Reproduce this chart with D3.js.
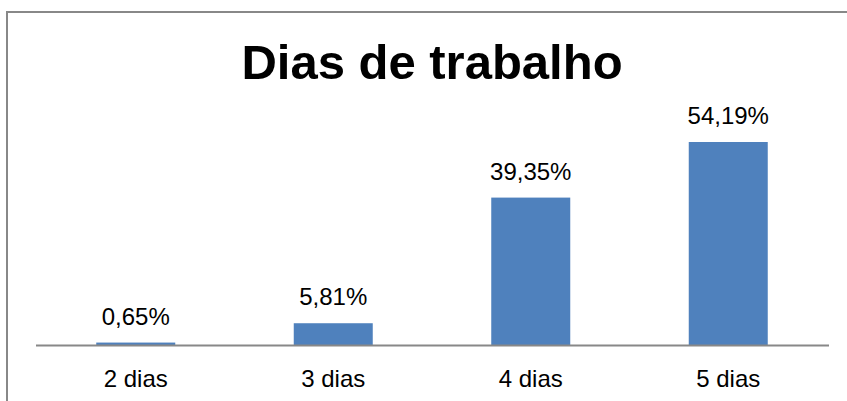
<!DOCTYPE html>
<html>
<head>
<meta charset="utf-8">
<script src="https://cdn.jsdelivr.net/npm/d3@7"></script>
<style>
  body { margin: 0; background: #fff; }
  svg { display: block; }
</style>
</head>
<body>
<div id="chart"></div>
<script>
const categories = ["2 dias", "3 dias", "4 dias", "5 dias"]
const values = [0.65, 5.81, 39.35, 54.19]
const valueLabels = ["0,65%", "5,81%", "39,35%", "54,19%"]
const title = "Dias de trabalho"

const width = 847
const height = 401
const baseY = 345

const svg = d3.select("#chart").append("svg")
  .attr("width", width)
  .attr("height", height)

// outer frame (right and bottom run off the picture)
svg.append("path")
  .attr("d", `M7,${height} V12 H${width}`)
  .attr("fill", "none")
  .attr("stroke", "#888")
  .attr("stroke-width", 2)

svg.append("text")
  .attr("x", 432)
  .attr("y", 79)
  .attr("text-anchor", "middle")
  .attr("font-family", "Liberation Sans, Arial, sans-serif")
  .attr("font-weight", "bold")
  .attr("font-size", 49)
  .attr("fill", "#000")
  .text(title)

const x = d3.scaleBand().domain(categories).range([37, 827]).paddingInner(0.6).paddingOuter(0.3)
const y = d3.scaleLinear().domain([0, 54.19]).range([baseY, 142])

svg.selectAll("rect.bar")
  .data(values)
  .enter()
  .append("rect")
  .attr("class", "bar")
  .attr("x", (d, i) => x(categories[i]))
  .attr("y", d => y(d))
  .attr("width", x.bandwidth())
  .attr("height", d => baseY - y(d))
  .attr("fill", "#4f81bd")

svg.selectAll("text.val")
  .data(values)
  .enter()
  .append("text")
  .attr("class", "val")
  .attr("x", (d, i) => x(categories[i]) + x.bandwidth() / 2)
  .attr("y", d => y(d) - 18)
  .attr("text-anchor", "middle")
  .attr("font-family", "Liberation Sans, Arial, sans-serif")
  .attr("font-size", 24)
  .attr("fill", "#000")
  .text((d, i) => valueLabels[i])

// x axis
const xAxis = d3.axisBottom(x).tickSize(0).tickPadding(0)
const gx = svg.append("g")
  .attr("transform", `translate(0, ${baseY})`)
  .call(xAxis)
gx.select(".domain")
  .attr("d", "M36,0.5H829")
  .attr("stroke", "#888")
  .attr("stroke-width", 2)
gx.selectAll("text")
  .attr("dy", null)
  .attr("y", 42)
  .attr("font-family", "Liberation Sans, Arial, sans-serif")
  .attr("font-size", 24)
  .attr("fill", "#000")
</script>
</body>
</html>
